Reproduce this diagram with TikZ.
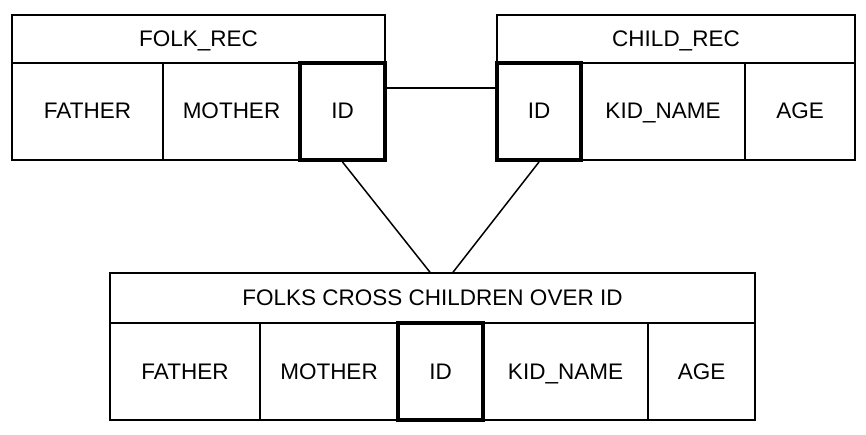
\documentclass[tikz,border=0pt]{standalone}
\usepackage{fontspec}
\setmainfont{Liberation Sans}
\begin{document}
\begin{tikzpicture}[x=1pt,y=-1pt,
  cell/.style={draw,line width=1.5pt,inner sep=0pt,text height=15pt,text depth=0pt,font=\fontsize{22.5}{24}\selectfont},
  key/.style={cell,line width=4pt}]
\useasboundingbox (0,0) rectangle (866,435);
% FOLK_REC
\node[cell,minimum width=373,minimum height=48] (ft) at (198.5,39) {FOLK\_REC};
\node[cell,minimum width=151,minimum height=97] (ff) at (87.5,111.5) {FATHER};
\node[cell,minimum width=137,minimum height=97] (fm) at (231.5,111.5) {MOTHER};
\node[key,minimum width=85,minimum height=97] (fi) at (342.5,111.5) {ID};
% CHILD_REC
\node[cell,minimum width=358,minimum height=48] (ct) at (676,39) {CHILD\_REC};
\node[key,minimum width=84,minimum height=97] (ci) at (539,111.5) {ID};
\node[cell,minimum width=164,minimum height=97] (ck) at (663,111.5) {KID\_NAME};
\node[cell,minimum width=110,minimum height=97] (ca) at (800,111.5) {AGE};
% RESULT
\node[cell,minimum width=645,minimum height=50] (rt) at (432.5,298) {FOLKS CROSS CHILDREN OVER ID};
\node[cell,minimum width=150,minimum height=97] (rf) at (185,371.5) {FATHER};
\node[cell,minimum width=138,minimum height=97] (rm) at (329,371.5) {MOTHER};
\node[key,minimum width=85,minimum height=97] (ri) at (440.5,371.5) {ID};
\node[cell,minimum width=165,minimum height=97] (rk) at (565.5,371.5) {KID\_NAME};
\node[cell,minimum width=107,minimum height=97] (ra) at (701.5,371.5) {AGE};
\draw[line width=1.5pt] (fi.east |- 0,88) -- (ci.west |- 0,88);
\draw[line width=1.5pt] (fi.south) -- (rt.north -| 430,0);
\draw[line width=1.5pt] (ci.south) -- (rt.north -| 453,0);
\end{tikzpicture}
\end{document}
